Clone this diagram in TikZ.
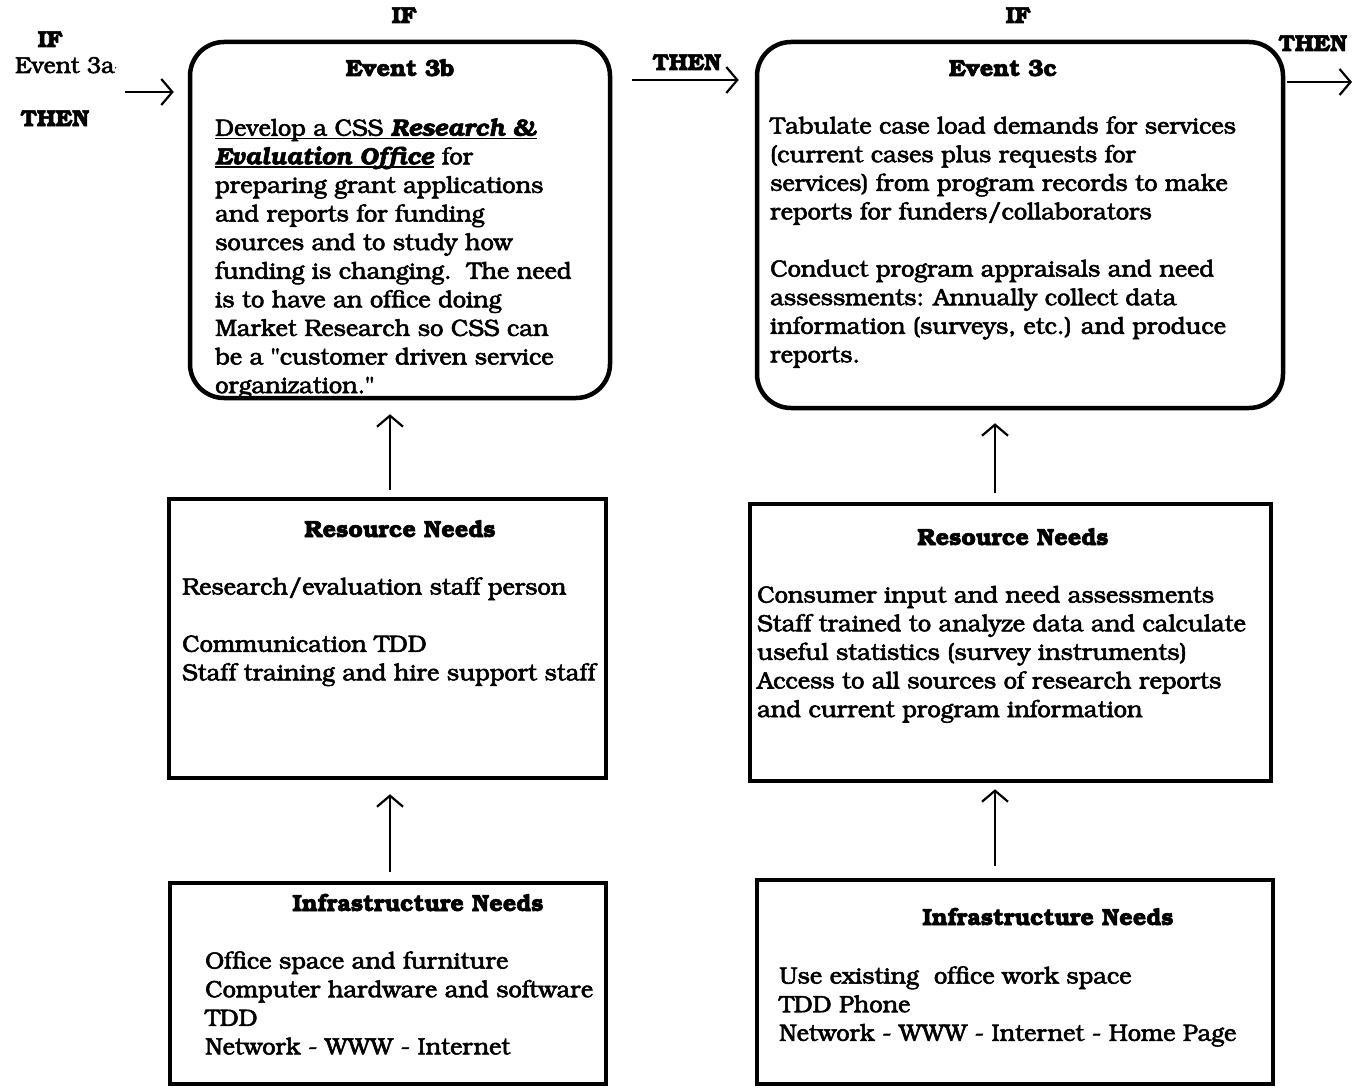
\documentclass[tikz,border=0pt]{standalone}
\usepackage[T1]{fontenc}
\usepackage{bookman}
\usetikzlibrary{arrows.meta}

% underline with a heavier rule than \underline gives
\newsavebox\ulsave
\newcommand\ulthick[1]{\sbox\ulsave{#1}\rlap{\rule[-3.5pt]{\wd\ulsave}{1.7pt}}\usebox\ulsave}
% slightly heavier glyphs: fill and stroke the outlines
\newcommand\heavyink{\special{pdf:literal direct 2 Tr 0.55 w}}

\begin{document}
\begin{tikzpicture}[x=1pt,y=-1pt,
  box/.style={draw,line width=4.5pt,inner sep=0pt},
  evbox/.style={box,rounded corners=34pt},
  body/.style={anchor=north west,align=left,inner sep=0pt,
    font=\heavyink\fontsize{23.6}{28.6}\selectfont},
  head/.style={anchor=base,inner sep=0pt,font=\heavyink\fontsize{23.4}{28.6}\selectfont\bfseries},
  lbl/.style={anchor=base,inner sep=0pt,font=\heavyink\fontsize{23}{26}\selectfont\bfseries},
  arr/.style={line width=2.2pt,-{Straight Barb[length=11pt,width=26pt,line width=2.2pt]}}
]
\useasboundingbox (0,0) rectangle (1364,1089);

% ---- boxes ----
\node[evbox,minimum width=420pt,minimum height=356pt] (ev3b) at (400,220) {};
\node[evbox,minimum width=526pt,minimum height=366pt] (ev3c) at (1020,225) {};
\node[box,minimum width=437pt,minimum height=279pt] (res3b) at (387.5,638.5) {};
\node[box,minimum width=521pt,minimum height=277pt] (res3c) at (1010.5,642.5) {};
\node[box,minimum width=436pt,minimum height=201pt] (inf3b) at (388,983.5) {};
\node[box,minimum width=516pt,minimum height=204pt] (inf3c) at (1015,982) {};

% ---- Event 3b ----
\node[head] (h3b) at (400,76) {Event 3b};
\node[body] (t3b) at (215,118) {%
  \ulthick{Develop a CSS \textbf{\textit{Research \&}}}\\
  \ulthick{\textbf{\textit{Evaluation Office}}} for\\
  preparing grant applications\\
  and reports for funding\\
  sources and to study how\\
  funding is changing.\ \ The need\\
  is to have an office doing\\
  Market Research so CSS can\\
  be a "customer driven service\\
  organization."};

% ---- Event 3c ----
\node[head] (h3c) at (1003,76) {Event 3c};
\node[body] (t3c) at (770,116) {%
  Tabulate case load demands for services\\
  (current cases plus requests for\\
  services) from program records to make\\
  reports for funders/collaborators\\[28.6pt]
  Conduct program appraisals and need\\
  assessments: Annually collect data\\
  information (surveys, etc.) and produce\\
  reports.};

% ---- Resource needs ----
\node[head] (hr3b) at (400,537) {Resource Needs};
\node[body] (tr3b) at (182,577) {%
  Research/evaluation staff person\\[28.6pt]
  Communication TDD\\
  Staff training and hire support staff};

\node[head] (hr3c) at (1013,545) {Resource Needs};
\node[body] (tr3c) at (757,586) {%
  Consumer input and need assessments\\
  Staff trained to analyze data and calculate\\
  useful statistics (survey instruments)\\
  Access to all sources of research reports\\
  and current program information};

% ---- Infrastructure needs ----
\node[head] (hi3b) at (418,911) {Infrastructure Needs};
\node[body] (ti3b) at (205,951) {%
  Office space and furniture\\
  Computer hardware and software\\
  TDD\\
  Network - WWW - Internet};

\node[head] (hi3c) at (1048,925) {Infrastructure Needs};
\node[body] (ti3c) at (779,966) {%
  Use existing\ \ office work space\\
  TDD Phone\\
  Network - WWW - Internet - Home Page};

% ---- IF / THEN labels ----
\node[lbl] (if3a) at (50,47) {IF};
\node[anchor=base,inner sep=0pt,font=\heavyink\fontsize{23}{26}\selectfont] (ev3a) at (66,73) {Event 3a\raisebox{4pt}{\tiny$\cdot$}};
\node[lbl] (then3a) at (55,126) {THEN};
\node[lbl] (if3b) at (404,23) {IF};
\node[lbl] (then3b) at (687,70) {THEN};
\node[lbl] (if3c) at (1018,23) {IF};
\node[lbl] (then3c) at (1313,51) {THEN};

% ---- connectors ----
\coordinate (in3a) at (125,92);
\coordinate (out3c) at (1352,82);
\coordinate (mid) at (0,80);
\coordinate (cl) at (390,0);
\coordinate (cr) at (995,0);

\draw[arr] (in3a) -- (ev3b.west |- in3a) [shorten >=14pt];
\draw[arr,shorten <=20pt,shorten >=16pt] (ev3b.east |- mid) -- (ev3c.west |- mid);
\draw[arr,shorten <=2pt] (ev3c.east |- out3c) -- (out3c);

\draw[arr,shorten <=7pt,shorten >=14pt] (res3b.north -| cl) -- (ev3b.south -| cl);
\draw[arr,shorten <=9pt,shorten >=13pt] (res3c.north -| cr) -- (ev3c.south -| cr);
\draw[arr,shorten <=9pt,shorten >=14pt] (inf3b.north -| cl) -- (res3b.south -| cl);
\draw[arr,shorten <=12pt,shorten >=6pt] (inf3c.north -| cr) -- (res3c.south -| cr);
\end{tikzpicture}
\end{document}
